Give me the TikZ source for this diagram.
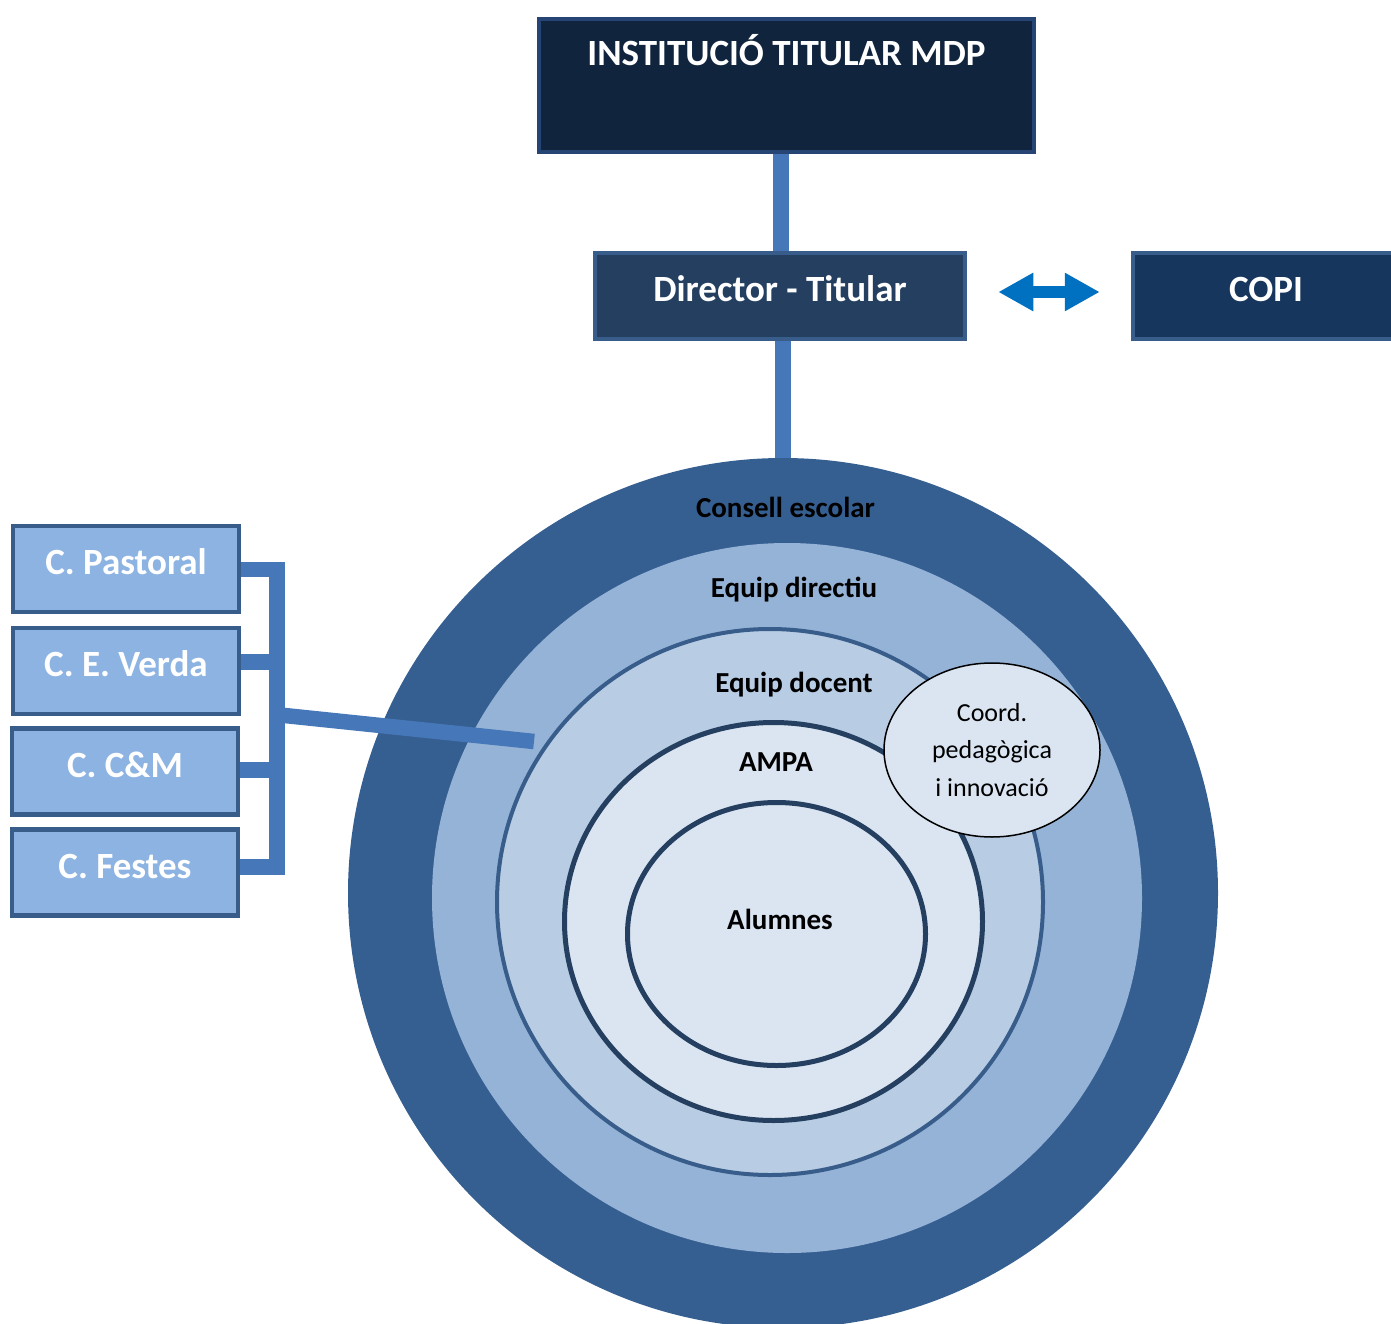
\documentclass[tikz,border=0pt]{standalone}
\usepackage{fontspec}
\setmainfont{Carlito}
\usepackage{tikz}
\usetikzlibrary{arrows.meta,shapes.geometric}

\definecolor{instfill}{HTML}{10243E}
\definecolor{instline}{HTML}{264474}
\definecolor{dirfill}{HTML}{243F60}
\definecolor{copifill}{HTML}{17365D}
\definecolor{boxline}{HTML}{385D8A}
\definecolor{sidefill}{HTML}{8DB3E2}
\definecolor{linkblue}{HTML}{4677B8}
\definecolor{arrowblue}{HTML}{0070C0}
\definecolor{ringA}{HTML}{365F91}
\definecolor{ringB}{HTML}{95B3D7}
\definecolor{ringC}{HTML}{B8CCE4}
\definecolor{ringD}{HTML}{DBE5F1}

\begin{document}
\begin{tikzpicture}[x=1pt, y=-1pt, box/.style={rectangle,draw=boxline,line width=4.5pt,text=white,font=\fontsize{37}{44}\selectfont\bfseries,text height=26pt,text depth=15pt}, side node/.style={box,fill=sidefill,minimum width=226pt,minimum height=86pt}, ring/.style={circle,inner sep=0pt}, oval/.style={ellipse,inner sep=0pt,fill=ringD,draw=dirfill,line width=5pt}, lbl/.style={anchor=base,font=\fontsize{29}{34}\selectfont\bfseries}, link/.style={draw=linkblue,line width=15.5pt}]

\useasboundingbox (0,0) rectangle (1391,1324);

\node[ring,fill=ringA,minimum size=870pt](consell) at (783,893) {};
\node[ring,fill=ringB,minimum size=710pt](directiu) at (787,898) {};
\node[ring,fill=ringC,draw=boxline,line width=4pt,minimum size=546pt](docent) at (770,902) {};
\node[oval,minimum width=418pt,minimum height=398pt](ampa) at (773.5,921.5) {};
\node[oval,minimum width=298pt,minimum height=263pt](alum) at (776.5,934) {};
\node[ellipse,fill=ringD,draw=black,line width=1.5pt,minimum width=216pt,minimum height=174pt,align=center,font=\fontsize{26}{37.5}\selectfont](coord) at (992,750) {Coord.\\pedagògica\\i innovació};

\node[lbl](lconsell) at (785.5,517) {Consell escolar};
\node[lbl](ldirectiu) at (794,597) {Equip directiu};
\node[lbl](ldocent) at (794,692) {Equip docent};
\node[lbl](lampa) at (776,771) {AMPA};
\node[lbl](lalum) at (780,929) {Alumnes};

\node[box,fill=instfill,draw=instline,minimum width=495pt,minimum height=133pt,text depth=65pt](inst) at (786.5,85.5) {INSTITUCIÓ TITULAR MDP};
\node[box,fill=dirfill,minimum width=370pt,minimum height=86pt](dir) at (780,296) {Director - Titular};
\node[box,fill=copifill,minimum width=266pt,minimum height=86pt](copi) at (1266,296) {COPI};

\node[side node](past) at (126,569) {C. Pastoral};
\node[side node](verda) at (126,671) {C. E. Verda};
\node[side node](cm) at (125,771.5) {C. C\&M};
\node[side node](fest) at (125,872.5) {C. Festes};

\draw[link] ([xshift=1pt]dir.north) -- ([xshift=1pt]dir.north |- inst.south);
\draw[link] (consell.north) -- (consell.north |- dir.south);
\draw[draw=arrowblue,line width=12pt,{Triangle[length=35pt,width=36pt]}-{Triangle[length=35pt,width=36pt]},shorten <=31pt,shorten >=31pt] ([yshift=4pt]dir.east) -- ([yshift=4pt]copi.west);

% bracket
\coordinate (b1) at (277,569.5);
\coordinate (b2) at (277,662);
\coordinate (b3) at (277,770);
\coordinate (b4) at (277,867);
\coordinate (b5) at (277,714.7);
\coordinate (dend) at (534,741.5);
\draw[link] (b1 -| past.east) -- (b1);
\draw[link] (b2 -| verda.east) -- (b2);
\draw[link] (b3 -| cm.east) -- (b3);
\draw[link] (b4 -| fest.east) -- (b4);
\draw[link,line cap=rect] (b1) -- (b4);
\draw[link] (b5) -- (dend);

\end{tikzpicture}
\end{document}
